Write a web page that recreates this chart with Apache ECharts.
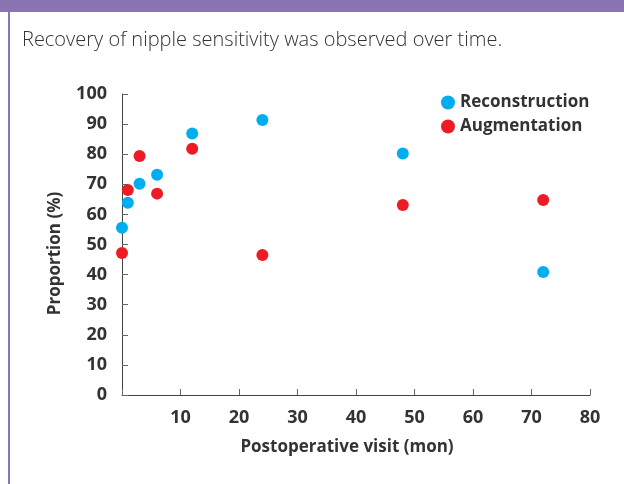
<!DOCTYPE html>
<html><head><meta charset="utf-8">
<script src="https://cdn.jsdelivr.net/npm/echarts@6/dist/echarts.min.js"></script>
<style>html,body{margin:0;padding:0;background:#fff}#c{width:624px;height:484px}</style>
</head><body><div id="c"></div>
<script>
const seriesNames = ['Reconstruction', 'Augmentation'];
const reconstructionMonths = [0, 1, 3, 6, 12, 24, 48, 72];
const reconstructionValues = [55.6, 63.9, 70.2, 73.2, 86.9, 91.4, 80.2, 40.9];
const augmentationMonths = [0, 1, 3, 6, 12, 24, 48, 72];
const augmentationValues = [47.2, 68.1, 79.4, 66.9, 81.8, 46.5, 63.1, 64.8];
const subtitle = 'Recovery of nipple sensitivity was observed over time.';
const xName = 'Postoperative visit (mon)';
const yName = 'Proportion (%)';

const font = '"Open Sans", "Noto Sans", sans-serif';
const chart = echarts.init(document.getElementById('c'), null, {renderer: 'canvas'});
chart.setOption({
  animation: false,
  textStyle: {fontFamily: font},
  graphic: [
    {type: 'rect', shape: {x: 0, y: 0, width: 624, height: 12}, style: {fill: '#8b74b4'}},
    {type: 'rect', shape: {x: 8, y: 12, width: 2, height: 472}, style: {fill: '#8b74b4'}},
    {type: 'text', left: 22, top: 30, style: {text: subtitle, font: '300 20px ' + font, fill: '#333'}}
  ],
  legend: {
    left: 436, top: 89, orient: 'vertical', itemGap: 7, itemWidth: 14, itemHeight: 14,
    icon: 'circle',
    textStyle: {fontSize: 17, fontWeight: 'bold', color: '#333', fontFamily: font},
    data: seriesNames
  },
  grid: {left: 122, right: 34, top: 94, bottom: 89},
  xAxis: {
    type: 'value', min: 0, max: 80, interval: 10,
    name: xName, nameLocation: 'middle', nameGap: 44,
    nameTextStyle: {fontSize: 17, fontWeight: 'bold', color: '#333', padding: [0, 18, 0, 0]},
    axisLine: {lineStyle: {color: '#444', width: 1}},
    axisTick: {inside: true, length: 6, lineStyle: {color: '#666'}},
    axisLabel: {fontSize: 18, fontWeight: 'bold', color: '#333', margin: 14,
      formatter: v => v === 0 ? '' : String(v)},
    splitLine: {show: false}
  },
  yAxis: {
    type: 'value', min: 0, max: 100, interval: 10,
    name: yName, nameLocation: 'middle', nameGap: 58,
    nameTextStyle: {fontSize: 17, fontWeight: 'bold', color: '#333', padding: [0, 18, 0, 0]},
    axisLine: {show: true, lineStyle: {color: '#444', width: 1}},
    axisTick: {show: true, inside: true, length: 6, lineStyle: {color: '#666'}},
    axisLabel: {fontSize: 18, fontWeight: 'bold', color: '#333', margin: 15},
    splitLine: {show: false}
  },
  series: [
    {name: seriesNames[0], type: 'scatter', symbolSize: 12, itemStyle: {color: '#00aeef', opacity: 1},
     data: reconstructionMonths.map((m, i) => [m, reconstructionValues[i]])},
    {name: seriesNames[1], type: 'scatter', symbolSize: 12, itemStyle: {color: '#ed1c24', opacity: 1},
     data: augmentationMonths.map((m, i) => [m, augmentationValues[i]])}
  ]
});
</script></body></html>
